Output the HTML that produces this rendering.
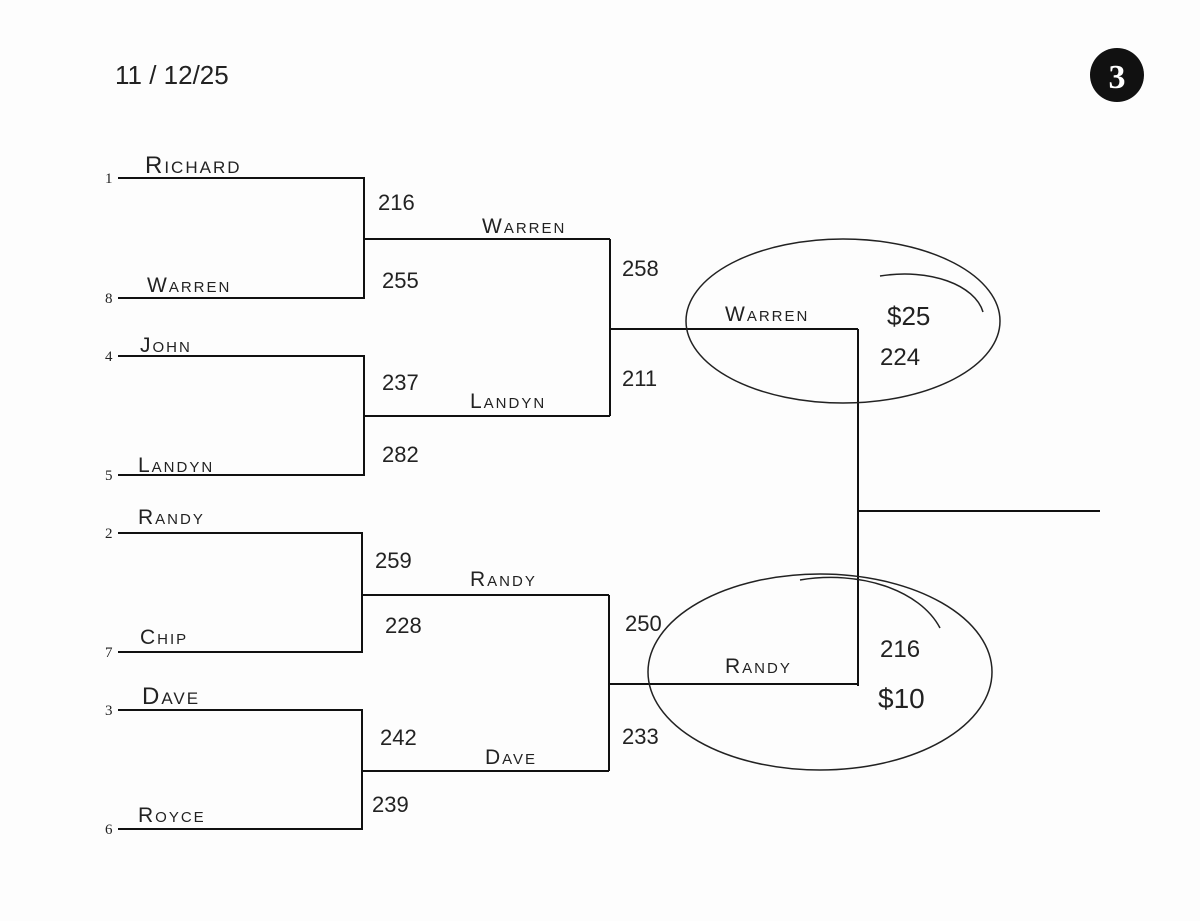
<!DOCTYPE html>
<html><head><meta charset="utf-8"><style>
html,body{margin:0;padding:0;background:#fff;}
svg{display:block}
.n{font-family:"Liberation Sans",sans-serif;font-size:21px;font-variant:small-caps;letter-spacing:2px;fill:#222;}
.s{font-family:"Liberation Sans",sans-serif;font-size:22px;fill:#222;}
.seed{font-family:"Liberation Serif",serif;font-size:15px;fill:#222;}
</style></head><body>
<svg width="1200" height="921" viewBox="0 0 1200 921" xmlns="http://www.w3.org/2000/svg">
<rect width="1200" height="921" fill="#fdfdfd"/>
<g stroke="#111" stroke-width="2" fill="none">
<path d="M118 178H364V298H118M364 239H610"/>
<path d="M118 356H364V475H118M364 416H610"/>
<path d="M610 239V416M610 329H858"/>
<path d="M118 533H362V652H118M362 595H609"/>
<path d="M118 710H362V829H118M362 771H609"/>
<path d="M609 595V771M609 684H858"/>
<path d="M858 329V686M858 511H1100"/>
</g>
<g stroke="#222" stroke-width="1.5" fill="none">
<ellipse cx="843" cy="321" rx="157" ry="82"/>
<path d="M880 276C930 268 975 285 983 312"/>
<ellipse cx="820" cy="672" rx="172" ry="98"/>
<path d="M800 580C860 570 920 590 940 628"/>
</g>
<text x="115" y="84" class="s" style="font-size:26px">11 / 12/25</text>
<circle cx="1117" cy="75" r="27" fill="#111"/>
<text x="1117" y="88" text-anchor="middle" font-family="Liberation Serif,serif" font-size="34" font-weight="bold" fill="#fff">3</text>
<g class="seed">
<text x="105" y="183">1</text><text x="105" y="303">8</text>
<text x="105" y="361">4</text><text x="105" y="480">5</text>
<text x="105" y="538">2</text><text x="105" y="657">7</text>
<text x="105" y="715">3</text><text x="105" y="834">6</text>
</g>
<g class="n">
<text x="145" y="173" style="font-size:24px">Richard</text>
<text x="147" y="292">Warren</text>
<text x="140" y="352">John</text>
<text x="138" y="472">Landyn</text>
<text x="138" y="524">Randy</text>
<text x="140" y="644">Chip</text>
<text x="142" y="704" style="font-size:24px">Dave</text>
<text x="138" y="822">Royce</text>
<text x="482" y="233">Warren</text>
<text x="470" y="408">Landyn</text>
<text x="470" y="586">Randy</text>
<text x="485" y="764">Dave</text>
<text x="725" y="321">Warren</text>
<text x="725" y="673">Randy</text>
</g>
<g class="s">
<text x="378" y="210">216</text><text x="382" y="288">255</text>
<text x="382" y="390">237</text><text x="382" y="462">282</text>
<text x="375" y="568">259</text><text x="385" y="633">228</text>
<text x="380" y="745">242</text><text x="372" y="812">239</text>
<text x="622" y="276">258</text><text x="622" y="386">211</text>
<text x="625" y="631">250</text><text x="622" y="744">233</text>
<text x="887" y="325" style="font-size:26px">$25</text>
<text x="880" y="365" style="font-size:24px">224</text>
<text x="880" y="657" style="font-size:24px">216</text>
<text x="878" y="708" style="font-size:28px">$10</text>
</g>
</svg>
</body></html>
